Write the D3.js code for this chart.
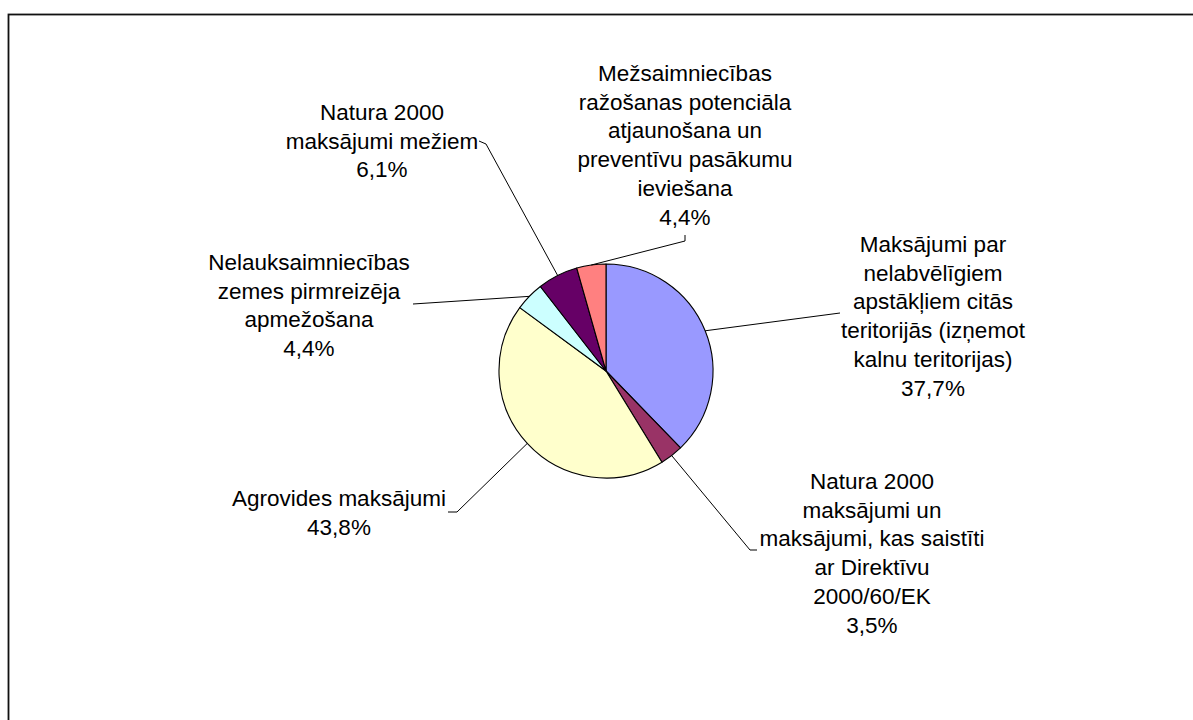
<!DOCTYPE html>
<html>
<head>
<meta charset="utf-8">
<script src="https://cdn.jsdelivr.net/npm/d3@7"></script>
<style>
  html, body { margin: 0; padding: 0; background: #fff; }
  svg { display: block; }
  text { font-family: "Liberation Sans", Arial, sans-serif; fill: #000; }
</style>
</head>
<body>
<svg id="chart" width="1193" height="720"></svg>
<script>
// ---- data ----
const categories = [
  "Maksājumi par nelabvēlīgiem apstākļiem citās teritorijās (izņemot kalnu teritorijas)",
  "Natura 2000 maksājumi un maksājumi, kas saistīti ar Direktīvu 2000/60/EK",
  "Agrovides maksājumi",
  "Nelauksaimniecības zemes pirmreizēja apmežošana",
  "Natura 2000 maksājumi mežiem",
  "Mežsaimniecības ražošanas potenciāla atjaunošana un preventīvu pasākumu ieviešana"
];
const values = [37.7, 3.5, 43.8, 4.4, 6.1, 4.4];
const labelLines = [
  ["Maksājumi par", "nelabvēlīgiem", "apstākļiem citās", "teritorijās (izņemot", "kalnu teritorijas)"],
  ["Natura 2000", "maksājumi un", "maksājumi, kas saistīti", "ar Direktīvu", "2000/60/EK"],
  ["Agrovides maksājumi"],
  ["Nelauksaimniecības", "zemes pirmreizēja", "apmežošana"],
  ["Natura 2000", "maksājumi mežiem"],
  ["Mežsaimniecības", "ražošanas potenciāla", "atjaunošana un", "preventīvu pasākumu", "ieviešana"]
];
const colors = ["#9999FF", "#993366", "#FFFFCC", "#CCFFFF", "#660066", "#FF8080"];

// ---- layout ----
const W = 1193, H = 720;
const cx = 606, cy = 371, R = 107;
const fontSize = 22.5, lineH = 28.8;
// label block: center x, center y of first line; leader anchor points (elbow and end)
const labelLayout = [
  { x: 933, y: 244, pts: [[840, 313]] },
  { x: 872, y: 481, pts: [[750, 550], [757, 550]] },
  { x: 339, y: 498, pts: [[457, 512], [448, 512]] },
  { x: 309, y: 262, pts: [[413, 304]] },
  { x: 382, y: 112, pts: [[486, 144], [479, 141]] },
  { x: 685, y: 73, pts: [[685, 241], [685, 235]] }
];

const svg = d3.select("#chart");

// frame
svg.append("rect")
  .attr("x", 8.5).attr("y", 14.5)
  .attr("width", W + 20).attr("height", H + 20)
  .attr("fill", "none").attr("stroke", "#111").attr("stroke-width", 1.8);

const pie = d3.pie().sort(null).value(d => d)
  .startAngle(0).endAngle(2 * Math.PI);
const arcs = pie(values);
const arc = d3.arc().innerRadius(0).outerRadius(R);

const g = svg.append("g").attr("transform", `translate(${cx},${cy})`);
g.selectAll("path.slice")
  .data(arcs)
  .join("path")
  .attr("class", "slice")
  .attr("d", arc)
  .attr("fill", (d, i) => colors[i])
  .attr("stroke", "#000")
  .attr("stroke-width", 1.1)
  .attr("stroke-linejoin", "round");

// leader lines
const fmt = v => d3.format(".1f")(v).replace(".", ",") + "%";
arcs.forEach((a, i) => {
  const mid = (a.startAngle + a.endAngle) / 2;
  const p0 = [cx + R * Math.sin(mid), cy - R * Math.cos(mid)];
  const pts = [p0].concat(labelLayout[i].pts);
  svg.append("path")
    .attr("d", d3.line()(pts))
    .attr("fill", "none")
    .attr("stroke", "#000")
    .attr("stroke-width", 1);
});

// labels
labelLines.forEach((lines, i) => {
  const L = labelLayout[i];
  const all = lines.concat([fmt(values[i])]);
  const t = svg.append("text")
    .attr("text-anchor", "middle")
    .attr("font-size", fontSize);
  all.forEach((s, k) => {
    t.append("tspan")
      .attr("x", L.x)
      .attr("y", L.y + k * lineH)
      .attr("dy", "0.35em")
      .text(s);
  });
});
</script>
</body>
</html>
